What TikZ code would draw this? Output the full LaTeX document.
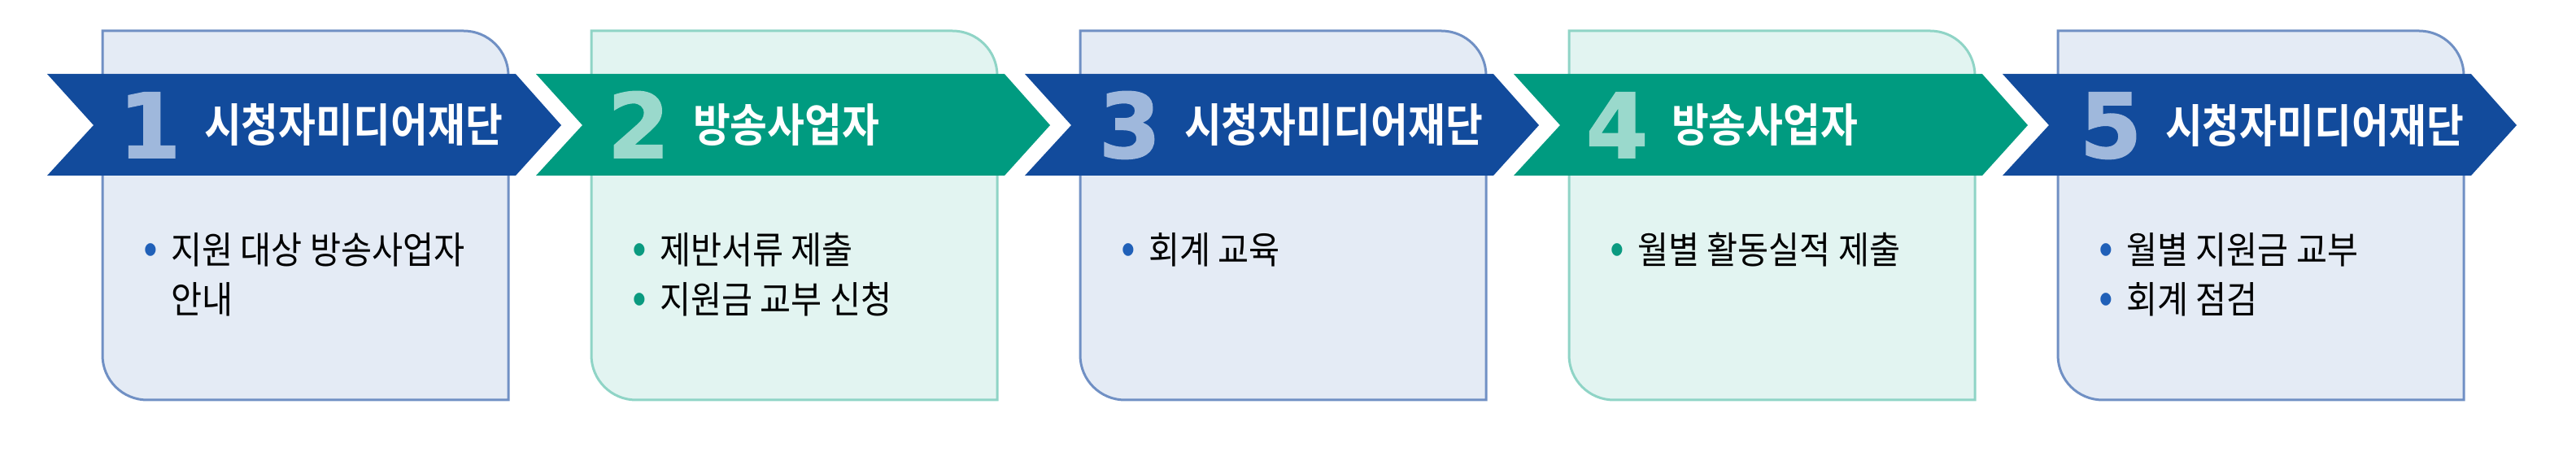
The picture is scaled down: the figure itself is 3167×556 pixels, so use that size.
\documentclass[tikz,border=0pt]{standalone}
\usepackage{fontspec}
\usepackage{tikz}
\usetikzlibrary{positioning}
\setmainfont{Noto Sans CJK KR}
\newfontfamily\titlefont[FakeStretch=0.89]{Noto Sans CJK KR Bold}
\newfontfamily\bodyfont[FakeStretch=0.9]{Noto Sans CJK KR}
\newfontfamily\numfont[FakeBold=1.5]{DejaVu Sans Bold}
\definecolor{bandblue}{RGB}{18,75,156}
\definecolor{bandgreen}{RGB}{0,155,128}
\definecolor{boxblue}{RGB}{228,235,245}
\definecolor{lineblue}{RGB}{112,144,196}
\definecolor{boxgreen}{RGB}{226,244,241}
\definecolor{linegreen}{RGB}{143,212,198}
\definecolor{numblue}{RGB}{159,184,220}
\definecolor{numgreen}{RGB}{154,217,204}
\definecolor{dotblue}{RGB}{32,96,184}
\definecolor{dotgreen}{RGB}{10,154,128}
\begin{document}
\begin{tikzpicture}[x=0.5pt,y=0.5pt]
		\tikzset{bluebox/.style={fill=boxblue, draw=lineblue, line width=1.5pt}}
		\tikzset{greenbox/.style={fill=boxgreen, draw=linegreen, line width=1.5pt}}
		\tikzset{stepnum/.style={font=\numfont\fontsize{55}{55}\selectfont, inner sep=0, anchor=base}}
		\tikzset{steptitle/.style={font=\titlefont\fontsize{28}{32}\selectfont, text=white, inner sep=0}}
		\tikzset{steptext/.style={font=\bodyfont\fontsize{23}{30.5}\selectfont, inner sep=0, anchor=base west}}
		\useasboundingbox (0,0) rectangle (3167,556);
		\draw[bluebox] (126,518) -- ++(444,0) arc[start angle=90,end angle=0,radius=27.5pt] -- ++(0,-399) -- ++(-444,0) arc[start angle=270,end angle=180,radius=27.5pt] -- cycle;
		\draw[greenbox] (727,518) -- ++(444,0) arc[start angle=90,end angle=0,radius=27.5pt] -- ++(0,-399) -- ++(-444,0) arc[start angle=270,end angle=180,radius=27.5pt] -- cycle;
		\draw[bluebox] (1328,518) -- ++(444,0) arc[start angle=90,end angle=0,radius=27.5pt] -- ++(0,-399) -- ++(-444,0) arc[start angle=270,end angle=180,radius=27.5pt] -- cycle;
		\draw[greenbox] (1929,518) -- ++(444,0) arc[start angle=90,end angle=0,radius=27.5pt] -- ++(0,-399) -- ++(-444,0) arc[start angle=270,end angle=180,radius=27.5pt] -- cycle;
		\draw[bluebox] (2530,518) -- ++(444,0) arc[start angle=90,end angle=0,radius=27.5pt] -- ++(0,-399) -- ++(-444,0) arc[start angle=270,end angle=180,radius=27.5pt] -- cycle;
		\fill[bandblue] (58,465) -- ++(576,0) -- ++(56,-63) -- ++(-56,-62) -- ++(-576,0) -- ++(57,62) -- cycle;
		\fill[bandgreen] (659,465) -- ++(576,0) -- ++(56,-63) -- ++(-56,-62) -- ++(-576,0) -- ++(57,62) -- cycle;
		\fill[bandblue] (1260,465) -- ++(576,0) -- ++(56,-63) -- ++(-56,-62) -- ++(-576,0) -- ++(57,62) -- cycle;
		\fill[bandgreen] (1861,465) -- ++(576,0) -- ++(56,-63) -- ++(-56,-62) -- ++(-576,0) -- ++(57,62) -- cycle;
		\fill[bandblue] (2462,465) -- ++(576,0) -- ++(56,-63) -- ++(-56,-62) -- ++(-576,0) -- ++(57,62) -- cycle;
		\node[stepnum, text=numblue] (num1) at (184,362) {1};
		\node[stepnum, text=numgreen] (num2) at (785,362) {2};
		\node[stepnum, text=numblue] (num3) at (1389,362) {3};
		\node[stepnum, text=numgreen] (num4) at (1988,362) {4};
		\node[stepnum, text=numblue] (num5) at (2595,362) {5};
		\node[steptitle, right=14pt of num1] (head1) {시청자미디어재단};
		\node[steptitle, right=14pt of num2] (head2) {방송사업자};
		\node[steptitle, right=14pt of num3] (head3) {시청자미디어재단};
		\node[steptitle, right=14pt of num4] (head4) {방송사업자};
		\node[steptitle, right=14pt of num5] (head5) {시청자미디어재단};
		\node[steptext] (body1) at (176,231) {\begin{tabular}[t]{@{}c@{\hspace{8pt}}l@{}}\textcolor{dotblue}{\fontsize{29}{29}\selectfont •} & 지원 대상 방송사업자\\ & 안내\end{tabular}};
		\node[steptext] (body2) at (777,231) {\begin{tabular}[t]{@{}c@{\hspace{8pt}}l@{}}\textcolor{dotgreen}{\fontsize{29}{29}\selectfont •} & 제반서류 제출\\ \textcolor{dotgreen}{\fontsize{29}{29}\selectfont •} & 지원금 교부 신청\end{tabular}};
		\node[steptext] (body3) at (1378,231) {\begin{tabular}[t]{@{}c@{\hspace{8pt}}l@{}}\textcolor{dotblue}{\fontsize{29}{29}\selectfont •} & 회계 교육\end{tabular}};
		\node[steptext] (body4) at (1979,231) {\begin{tabular}[t]{@{}c@{\hspace{8pt}}l@{}}\textcolor{dotgreen}{\fontsize{29}{29}\selectfont •} & 월별 활동실적 제출\end{tabular}};
		\node[steptext] (body5) at (2580,231) {\begin{tabular}[t]{@{}c@{\hspace{8pt}}l@{}}\textcolor{dotblue}{\fontsize{29}{29}\selectfont •} & 월별 지원금 교부\\ \textcolor{dotblue}{\fontsize{29}{29}\selectfont •} & 회계 점검\end{tabular}};
	\end{tikzpicture}
\end{document}
